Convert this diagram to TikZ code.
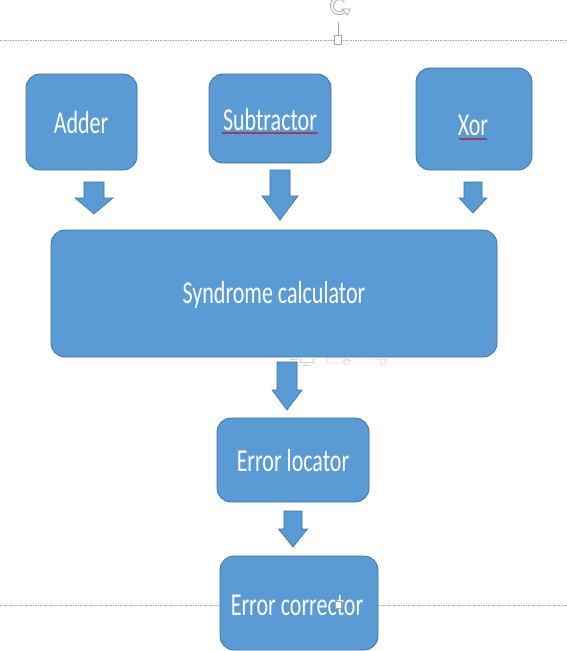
\documentclass[tikz,border=0pt]{standalone}
\usepackage{fontspec}
\setmainfont{Carlito}
\usepackage{graphicx}
\usetikzlibrary{decorations.pathmorphing}
\definecolor{boxfill}{HTML}{5B9BD5}
\definecolor{boxline}{HTML}{41719C}
\definecolor{guide}{HTML}{A6A6A6}
\newcommand{\lbl}[1]{\scalebox{1}[1.45]{#1}}
\newcommand{\blockarrow}[6]{% x, ytop, yhead, ybot, shaft half, head half
  \filldraw[barrow] (#1-#5,#2) -- (#1+#5,#2) -- (#1+#5,#3) -- (#1+#6,#3) -- (#1,#4) -- (#1-#6,#3) -- (#1-#5,#3) -- cycle;}
\begin{document}
\begin{tikzpicture}[x=1pt,y=-1pt,
  blk/.style={draw=boxline, fill=boxfill, line width=0.8pt, rounded corners=14pt,
    text=white, inner sep=0pt},
  lab/.style={text=white, font=\fontsize{22}{25}\selectfont},
  barrow/.style={draw=boxline, fill=boxfill, line width=0.6pt, line join=miter},
  guideline/.style={draw=guide, line width=0.6pt, dash pattern=on 1.5pt off 1pt},
  squiggle/.style={draw=red!80!black, line width=0.6pt, decorate,
    decoration={snake, amplitude=0.7pt, segment length=2.5pt}},
  handle/.style={draw=guide, fill=white, line width=0.6pt},
  faint/.style={draw=gray!35, line width=0.5pt}]
\useasboundingbox (0,0) rectangle (567,651);
% guide lines
\draw[guideline] (0,40) -- (567,40);
% boxes
\node[blk, minimum width=111pt, minimum height=96pt] (adder) at (81.5,122) {};
\node[blk, minimum width=122pt, minimum height=89pt] (sub) at (270,118.5) {};
\node[blk, minimum width=116pt, minimum height=102pt] (xor) at (474,119) {};
\node[blk, minimum width=446pt, minimum height=127pt] (syn) at (274,293.5) {};
\node[blk, minimum width=152pt, minimum height=84pt] (loc) at (293,460) {};
\node[blk, minimum width=158pt, minimum height=94pt] (cor) at (299,603) {};
% labels
\node[lab] (tadder) at (81,123) {\lbl{Adder}};
\node[lab] (tsub) at (270,120) {\lbl{Subtractor}};
\node[lab] (txor) at (473,125) {\lbl{Xor}};
\node[lab] (tsyn) at (274,295) {\lbl{Syndrome calculator}};
\node[lab] (tloc) at (293,461) {\lbl{Error locator}};
\node[lab] (tcor) at (297,605) {\lbl{Error corrector}};
% spelling squiggles
\draw[squiggle] (222,133) -- (318,133);
\draw[squiggle] (459,139) -- (487,139);
% block arrows
\blockarrow{94}{182}{198}{214}{10}{19}
\blockarrow{280}{170}{196}{220}{10}{18}
\blockarrow{473}{182}{198}{213}{9}{14}
\blockarrow{287}{362}{390}{410}{10}{15}
\blockarrow{293}{511}{529}{547}{9}{14.5}
% lower guide line
\draw[guideline] (0,605) -- (220,605);
\draw[guideline] (378,605) -- (567,605);
% faint icons under syndrome box
\draw[faint] (290,359) -- (298,359) (300,357) rectangle (313,362) (306,362) -- (306,364) (303,365) -- (309,365);
\draw[faint] (327,358) rectangle (343,363) (347,362) circle (3pt) (343,360) -- (352,360);
\draw[faint] (366,359) -- (376,359) (383,362) circle (3pt) (376,359) -- (388,359);
% rotation handle
\draw[guide, line width=0.8pt] (338,22) -- (338,35);
\draw[handle] (334.5,35) rectangle (341.5,44);
\draw[guide, line width=3.6pt] (345.5,10) arc[start angle=-35, end angle=-320, radius=7.5pt];
\draw[white, line width=2pt] (345.5,10) arc[start angle=-35, end angle=-320, radius=7.5pt];
\filldraw[draw=guide, fill=white, line width=0.6pt] (342,9) -- (350,9) -- (347.5,15) -- cycle;
% handle inside corrector
\draw[handle] (335.5,601.5) rectangle (341.5,608);
\end{tikzpicture}
\end{document}
